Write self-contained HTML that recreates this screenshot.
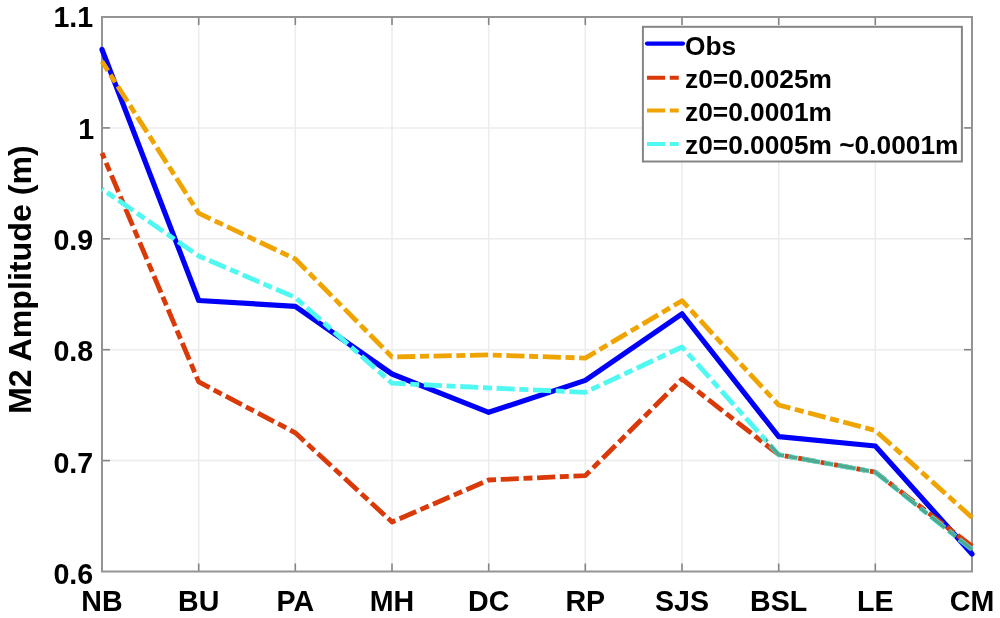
<!DOCTYPE html>
<html><head><meta charset="utf-8"><title>M2 Amplitude</title>
<style>html,body{margin:0;padding:0;background:#fff;width:1000px;height:618px;overflow:hidden}svg{display:block}</style>
</head><body>
<svg width="1000" height="618" viewBox="0 0 1000 618">
<defs><clipPath id="ov"><rect x="766" y="380" width="210" height="190"/></clipPath></defs>
<rect width="1000" height="618" fill="#fff"/>
<g><line x1="198.7" y1="17.0" x2="198.7" y2="571.5" stroke="#ececec" stroke-width="1.5"/><line x1="295.3" y1="17.0" x2="295.3" y2="571.5" stroke="#ececec" stroke-width="1.5"/><line x1="392.0" y1="17.0" x2="392.0" y2="571.5" stroke="#ececec" stroke-width="1.5"/><line x1="488.7" y1="17.0" x2="488.7" y2="571.5" stroke="#ececec" stroke-width="1.5"/><line x1="585.3" y1="17.0" x2="585.3" y2="571.5" stroke="#ececec" stroke-width="1.5"/><line x1="682.0" y1="17.0" x2="682.0" y2="571.5" stroke="#ececec" stroke-width="1.5"/><line x1="778.7" y1="17.0" x2="778.7" y2="571.5" stroke="#ececec" stroke-width="1.5"/><line x1="875.3" y1="17.0" x2="875.3" y2="571.5" stroke="#ececec" stroke-width="1.5"/><line x1="102.0" y1="127.9" x2="972.0" y2="127.9" stroke="#ececec" stroke-width="1.5"/><line x1="102.0" y1="238.8" x2="972.0" y2="238.8" stroke="#ececec" stroke-width="1.5"/><line x1="102.0" y1="349.7" x2="972.0" y2="349.7" stroke="#ececec" stroke-width="1.5"/><line x1="102.0" y1="460.6" x2="972.0" y2="460.6" stroke="#ececec" stroke-width="1.5"/></g>
<g><line x1="198.7" y1="571.5" x2="198.7" y2="563.5" stroke="#858585" stroke-width="1.6"/><line x1="198.7" y1="17.0" x2="198.7" y2="25.0" stroke="#858585" stroke-width="1.6"/><line x1="295.3" y1="571.5" x2="295.3" y2="563.5" stroke="#858585" stroke-width="1.6"/><line x1="295.3" y1="17.0" x2="295.3" y2="25.0" stroke="#858585" stroke-width="1.6"/><line x1="392.0" y1="571.5" x2="392.0" y2="563.5" stroke="#858585" stroke-width="1.6"/><line x1="392.0" y1="17.0" x2="392.0" y2="25.0" stroke="#858585" stroke-width="1.6"/><line x1="488.7" y1="571.5" x2="488.7" y2="563.5" stroke="#858585" stroke-width="1.6"/><line x1="488.7" y1="17.0" x2="488.7" y2="25.0" stroke="#858585" stroke-width="1.6"/><line x1="585.3" y1="571.5" x2="585.3" y2="563.5" stroke="#858585" stroke-width="1.6"/><line x1="585.3" y1="17.0" x2="585.3" y2="25.0" stroke="#858585" stroke-width="1.6"/><line x1="682.0" y1="571.5" x2="682.0" y2="563.5" stroke="#858585" stroke-width="1.6"/><line x1="682.0" y1="17.0" x2="682.0" y2="25.0" stroke="#858585" stroke-width="1.6"/><line x1="778.7" y1="571.5" x2="778.7" y2="563.5" stroke="#858585" stroke-width="1.6"/><line x1="778.7" y1="17.0" x2="778.7" y2="25.0" stroke="#858585" stroke-width="1.6"/><line x1="875.3" y1="571.5" x2="875.3" y2="563.5" stroke="#858585" stroke-width="1.6"/><line x1="875.3" y1="17.0" x2="875.3" y2="25.0" stroke="#858585" stroke-width="1.6"/><line x1="102.0" y1="127.9" x2="110.0" y2="127.9" stroke="#858585" stroke-width="1.6"/><line x1="972.0" y1="127.9" x2="964.0" y2="127.9" stroke="#858585" stroke-width="1.6"/><line x1="102.0" y1="238.8" x2="110.0" y2="238.8" stroke="#858585" stroke-width="1.6"/><line x1="972.0" y1="238.8" x2="964.0" y2="238.8" stroke="#858585" stroke-width="1.6"/><line x1="102.0" y1="349.7" x2="110.0" y2="349.7" stroke="#858585" stroke-width="1.6"/><line x1="972.0" y1="349.7" x2="964.0" y2="349.7" stroke="#858585" stroke-width="1.6"/><line x1="102.0" y1="460.6" x2="110.0" y2="460.6" stroke="#858585" stroke-width="1.6"/><line x1="972.0" y1="460.6" x2="964.0" y2="460.6" stroke="#858585" stroke-width="1.6"/></g>
<rect x="102.0" y="17.0" width="870.0" height="554.5" fill="none" stroke="#949494" stroke-width="2"/>
<g><polyline points="102.0,49.5 198.7,300.5 295.3,306.3 392.0,374.0 488.7,412.3 585.3,380.4 682.0,313.8 778.7,436.6 875.3,446.0 972.0,554.0" fill="none" stroke="#0000fa" stroke-width="5.2" stroke-linejoin="round" stroke-linecap="round"/><polyline points="102.0,153.0 198.7,381.9 295.3,432.8 392.0,522.0 488.7,480.0 585.3,475.6 682.0,379.0 778.7,454.7 875.3,472.1 972.0,546.3" fill="none" stroke="#da3a08" stroke-width="4.8" stroke-dasharray="18.1 4.65 9 4.65" stroke-dashoffset="12.1" stroke-linejoin="round"/><polyline points="102.0,61.5 198.7,213.2 295.3,259.0 392.0,357.0 488.7,354.9 585.3,358.1 682.0,300.7 778.7,405.0 875.3,430.5 972.0,517.5" fill="none" stroke="#f0a402" stroke-width="4.8" stroke-dasharray="18.1 4.65 9 4.65" stroke-dashoffset="7.1" stroke-linejoin="round"/><polyline points="102.0,189.0 198.7,256.0 295.3,297.5 392.0,383.2 488.7,387.9 585.3,392.3 682.0,347.0 778.7,454.7 875.3,472.1 972.0,549.5" fill="none" stroke="#50f8f2" stroke-width="4.8" stroke-dasharray="18.1 4.65 9 4.65" stroke-dashoffset="16.5" stroke-linejoin="round"/><polyline points="102.0,189.0 198.7,256.0 295.3,297.5 392.0,383.2 488.7,387.9 585.3,392.3 682.0,347.0 778.7,454.7 875.3,472.1 972.0,549.5" fill="none" stroke="#52a88e" stroke-width="3.6" stroke-dasharray="18.1 4.65 9 4.65" stroke-dashoffset="16.5" stroke-linejoin="round" clip-path="url(#ov)"/></g>
<g font-family="'Liberation Sans', Arial, sans-serif" font-weight="bold" font-size="28.6" fill="#000">
<text x="53.4" y="27.3">1.1</text><text x="78.2" y="138.6">1</text><text x="93.2" y="249.6" text-anchor="end">0.9</text><text x="93.2" y="361.2" text-anchor="end">0.8</text><text x="93.2" y="472.5" text-anchor="end">0.7</text><text x="93.2" y="583.8" text-anchor="end">0.6</text><text x="102.0" y="610.5" text-anchor="middle">NB</text><text x="198.7" y="610.5" text-anchor="middle">BU</text><text x="295.3" y="610.5" text-anchor="middle">PA</text><text x="392.0" y="610.5" text-anchor="middle">MH</text><text x="488.7" y="610.5" text-anchor="middle">DC</text><text x="585.3" y="610.5" text-anchor="middle">RP</text><text x="682.0" y="610.5" text-anchor="middle">SJS</text><text x="778.7" y="610.5" text-anchor="middle">BSL</text><text x="875.3" y="610.5" text-anchor="middle">LE</text><text x="972.0" y="610.5" text-anchor="middle">CM</text>
<text transform="translate(30.5,279.6) rotate(-90)" text-anchor="middle" font-size="32.2">M2 Amplitude (m)</text>
</g>
<g font-family="'Liberation Sans', Arial, sans-serif" font-weight="bold" fill="#000">
<rect x="642.9" y="26.8" width="319.0" height="134.7" fill="#fff" stroke="#858585" stroke-width="2"/><line x1="647" y1="43.6" x2="683" y2="43.6" stroke="#0000fa" stroke-width="4.2" stroke-linecap="round"/><text x="685" y="54.6" font-size="26.3">Obs</text><line x1="647" y1="77.8" x2="683" y2="77.8" stroke="#da3a08" stroke-width="4" stroke-dasharray="18.1 4.65 9 4.65"/><text x="685" y="87.8" font-size="26.3">z0=0.0025m</text><line x1="647" y1="110.6" x2="683" y2="110.6" stroke="#f0a402" stroke-width="4" stroke-dasharray="18.1 4.65 9 4.65"/><text x="685" y="121.0" font-size="26.3">z0=0.0001m</text><line x1="647" y1="144.1" x2="683" y2="144.1" stroke="#50f8f2" stroke-width="4" stroke-dasharray="18.1 4.65 9 4.65"/><text x="685" y="153.9" font-size="26.3">z0=0.0005m ~0.0001m</text>
</g>
</svg>
</body></html>
